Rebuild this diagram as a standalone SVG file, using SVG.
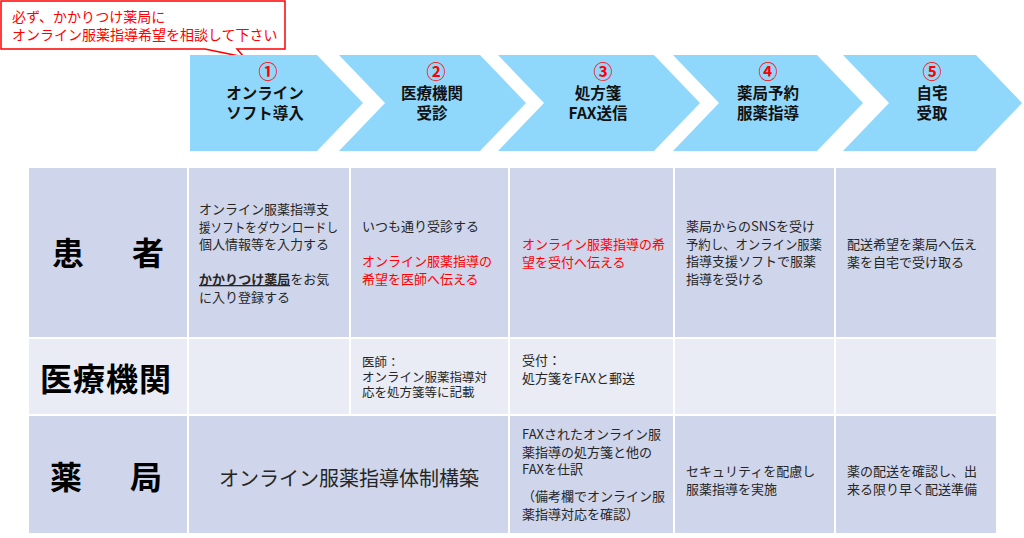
<svg xmlns="http://www.w3.org/2000/svg" width="1024" height="538" viewBox="0 0 1024 538">
<style>
text{font-family:"Noto Sans CJK JP","Noto Sans",sans-serif;}
.chev{fill:#8FD8FB;}
.num{font-size:19px;font-weight:bold;fill:#FF0000;text-anchor:middle;}
.ct{font-size:15.5px;font-weight:bold;fill:#111;text-anchor:middle;}
.c1{fill:#CFD5EA;}
.c2{fill:#E9EBF5;}
.lbl{font-size:32px;font-weight:bold;fill:#000;}
.t{font-size:13px;fill:#262626;}
.s{font-size:12.5px;fill:#262626;}
.r{fill:#FF0000;}
</style>
<rect width="1024" height="538" fill="#fff"/>
<g id="callout">
<path d="M1,1 H285 V49 H237 L244,57 L205,49 H1 Z" fill="#fff" stroke="#FF0000" stroke-width="1.5"/>
<text x="12" y="22" font-size="14" fill="#FF0000">必ず、かかりつけ薬局に</text>
<text x="12" y="40" font-size="14" fill="#FF0000">オンライン服薬指導希望を相談して下さい</text>
</g>
<g id="step1">
<path class="chev" d="M190,55 H317 L363,103 L317,151 H190 Z"/>
<text class="num" x="268" y="79">①</text>
<text class="ct" x="265" y="99">オンライン</text>
<text class="ct" x="265" y="119">ソフト導入</text>
</g>
<g id="step2">
<path class="chev" d="M339,55 H480 L526,103 L480,151 H339 L385,103 Z"/>
<text class="num" x="436" y="79">②</text>
<text class="ct" x="432" y="99">医療機関</text>
<text class="ct" x="432" y="119">受診</text>
</g>
<g id="step3">
<path class="chev" d="M498,55 H654 L700,103 L654,151 H498 L544,103 Z"/>
<text class="num" x="603" y="79">③</text>
<text class="ct" x="598" y="99">処方箋</text>
<text class="ct" x="598" y="119">FAX送信</text>
</g>
<g id="step4">
<path class="chev" d="M673,55 H817 L863,103 L817,151 H673 L719,103 Z"/>
<text class="num" x="768" y="79">④</text>
<text class="ct" x="768" y="99">薬局予約</text>
<text class="ct" x="768" y="119">服薬指導</text>
</g>
<g id="step5">
<path class="chev" d="M843,55 H976 L1022,103 L976,151 H843 L889,103 Z"/>
<text class="num" x="932" y="79">⑤</text>
<text class="ct" x="932" y="99">自宅</text>
<text class="ct" x="932" y="119">受取</text>
</g>
<g id="table" stroke="#fff" stroke-width="2">
<rect class="c1" x="28" y="167" width="160" height="171"/>
<rect class="c1" x="188" y="167" width="162" height="171"/>
<rect class="c1" x="350" y="167" width="159" height="171"/>
<rect class="c1" x="509" y="167" width="165" height="171"/>
<rect class="c1" x="674" y="167" width="161" height="171"/>
<rect class="c1" x="835" y="167" width="162" height="171"/>
<rect class="c2" x="28" y="338" width="160" height="77"/>
<rect class="c2" x="188" y="338" width="162" height="77"/>
<rect class="c2" x="350" y="338" width="159" height="77"/>
<rect class="c2" x="509" y="338" width="165" height="77"/>
<rect class="c2" x="674" y="338" width="161" height="77"/>
<rect class="c2" x="835" y="338" width="162" height="77"/>
<rect class="c1" x="28" y="415" width="160" height="119"/>
<rect class="c1" x="188" y="415" width="321" height="119"/>
<rect class="c1" x="509" y="415" width="165" height="119"/>
<rect class="c1" x="674" y="415" width="161" height="119"/>
<rect class="c1" x="835" y="415" width="162" height="119"/>
</g>
<g id="labels">
<text class="lbl" x="52" y="265" letter-spacing="8">患　者</text>
<text class="lbl" x="40" y="391" font-size="33" letter-spacing="1">医療機関</text>
<text class="lbl" x="50" y="489" letter-spacing="8">薬　局</text>
</g>
<g id="patient-row">
<text class="t" x="199" y="214">オンライン服薬指導支</text>
<text class="t" x="199" y="231.5" textLength="139" lengthAdjust="spacingAndGlyphs">援ソフトをダウンロードし</text>
<text class="t" x="199" y="249">個人情報等を入力する</text>
<text class="t" x="199" y="284"><tspan font-weight="bold" text-decoration="underline">かかりつけ薬局</tspan>をお気</text>
<text class="t" x="199" y="301.5">に入り登録する</text>
<text class="t" x="362" y="231">いつも通り受診する</text>
<text class="t r" x="362" y="266">オンライン服薬指導の</text>
<text class="t r" x="362" y="284">希望を医師へ伝える</text>
<text class="t r" x="522" y="249">オンライン服薬指導の希</text>
<text class="t r" x="522" y="267">望を受付へ伝える</text>
<text class="t" x="686" y="231">薬局からのSNSを受け</text>
<text class="t" x="686" y="249" textLength="136" lengthAdjust="spacingAndGlyphs">予約し、オンライン服薬</text>
<text class="t" x="686" y="266">指導支援ソフトで服薬</text>
<text class="t" x="686" y="284">指導を受ける</text>
<text class="t" x="847" y="249">配送希望を薬局へ伝え</text>
<text class="t" x="847" y="267">薬を自宅で受け取る</text>
</g>
<g id="clinic-row">
<text class="s" x="362" y="367">医師：</text>
<text class="s" x="362" y="382">オンライン服薬指導対</text>
<text class="s" x="362" y="397">応を処方箋等に記載</text>
<text class="t" x="522" y="365">受付：</text>
<text class="t" x="522" y="383">処方箋をFAXと郵送</text>
</g>
<g id="pharmacy-row">
<text x="349" y="486" font-size="20" fill="#262626" text-anchor="middle">オンライン服薬指導体制構築</text>
<text class="t" x="522" y="439">FAXされたオンライン服</text>
<text class="t" x="522" y="457">薬指導の処方箋と他の</text>
<text class="t" x="522" y="474">FAXを仕訳</text>
<text class="t" x="522" y="501">（備考欄でオンライン服</text>
<text class="t" x="522" y="519">薬指導対応を確認）</text>
<text class="t" x="686" y="476">セキュリティを配慮し</text>
<text class="t" x="686" y="494">服薬指導を実施</text>
<text class="t" x="847" y="476">薬の配送を確認し、出</text>
<text class="t" x="847" y="494">来る限り早く配送準備</text>
</g>
</svg>
